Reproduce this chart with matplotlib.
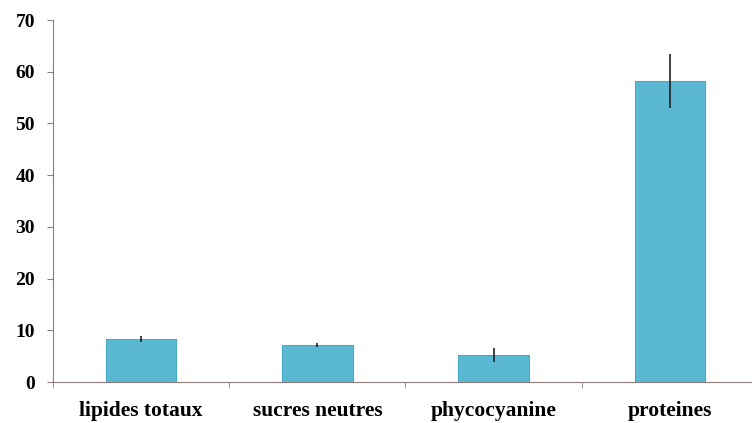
import matplotlib.pyplot as plt
import numpy as np

categories = ['lipides totaux', 'sucres neutres', 'phycocyanine', 'proteines']
values = [8.3, 7.2, 5.2, 58.2]
errors = [0.5, 0.4, 1.3, 5.3]

plt.rcParams['font.family'] = ['Liberation Serif', 'DejaVu Serif']

fig = plt.figure(figsize=(7.52, 4.23), dpi=100)
ax = fig.add_axes([53 / 752, 41 / 423, 705 / 752, 362 / 423])

x = np.arange(len(categories))
ax.bar(x, values, width=0.4, color='#5bb8d2', edgecolor='#4aaac6', linewidth=0.8)
ax.errorbar(x, values, yerr=errors, fmt='none', ecolor='#222222', elinewidth=1.2, capsize=0)

ax.set_xlim(-0.5, 3.5)
ax.set_ylim(0, 70)
ax.set_yticks(range(0, 71, 10))
ax.set_xticks(x)
ax.set_xticklabels(categories, fontsize=15.5, fontweight='bold')
ax.set_xticks(np.arange(-0.5, 4, 1), minor=True)
ax.tick_params(axis='x', which='major', length=0, pad=14)
ax.tick_params(axis='x', which='minor', length=4, color='#8c7f7a')
ax.tick_params(axis='y', length=4, color='#8c7f7a', pad=9)
for lab in ax.get_yticklabels():
    lab.set_fontsize(14)
    lab.set_fontweight('bold')

for s in ['top', 'right']:
    ax.spines[s].set_visible(False)
for s in ['left', 'bottom']:
    ax.spines[s].set_color('#8c7f7a')

plt.savefig('out.png', dpi=100)
